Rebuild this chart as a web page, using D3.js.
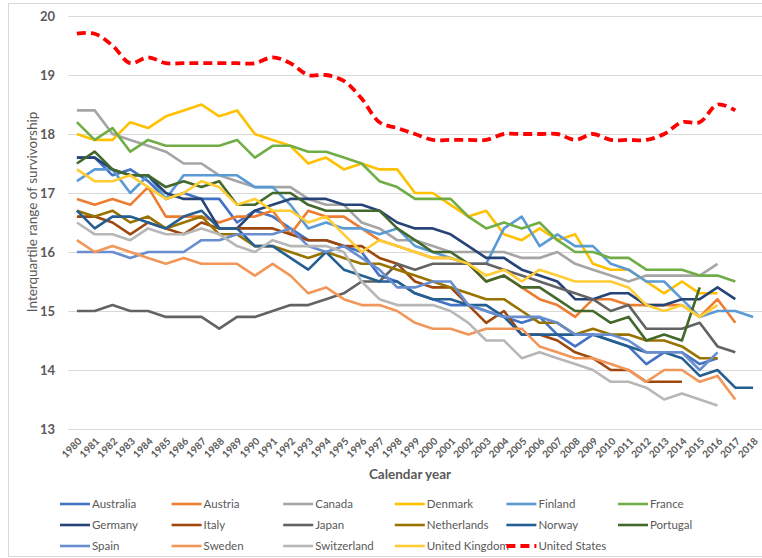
<!DOCTYPE html>
<html>
<head>
<meta charset="utf-8">
<script src="https://cdn.jsdelivr.net/npm/d3@7"></script>
<style>
  body { margin: 0; background: #fff; }
  text { font-family: Lato, "Open Sans", sans-serif; fill: #595959; }
</style>
</head>
<body>
<div id="chart-area"></div>
<script>
// years on the category axis
let years = d3.range(1980, 2019);
let yTicks = [13, 14, 15, 16, 17, 18, 19, 20];

// series values, starting at 1980
let australia = [17.6,17.6,17.3,17.4,17.2,16.9,17.0,16.9,16.9,16.5,16.7,16.6,16.4,16.2,16.2,16.1,16.0,15.6,15.5,15.3,15.2,15.1,15.1,15.0,14.9,14.8,14.9,14.6,14.4,14.6,14.5,14.4,14.1,14.3,14.3,14.1,14.2];
let austria = [16.9,16.8,16.9,16.8,17.1,16.6,16.6,16.6,16.5,16.6,16.6,16.7,16.3,16.7,16.6,16.6,16.4,16.2,16.1,16.0,15.9,15.9,15.8,15.5,15.6,15.4,15.2,15.1,14.9,15.2,15.2,15.1,15.1,15.1,15.1,14.9,15.2,14.8];
let canada = [18.4,18.4,18.0,17.9,17.8,17.7,17.5,17.5,17.3,17.2,17.1,17.1,17.1,16.9,16.8,16.8,16.5,16.4,16.2,16.2,16.1,16.0,16.0,16.0,16.0,15.9,15.9,16.0,15.8,15.7,15.6,15.5,15.6,15.6,15.6,15.6,15.8];
let denmark = [18.0,17.9,17.9,18.2,18.1,18.3,18.4,18.5,18.3,18.4,18.0,17.9,17.8,17.5,17.6,17.4,17.5,17.4,17.4,17.0,17.0,16.8,16.6,16.7,16.3,16.2,16.4,16.2,16.3,15.8,15.7,15.7,15.5,15.3,15.5,15.3,15.3];
let finland = [17.2,17.4,17.4,17.0,17.3,16.9,17.3,17.3,17.3,17.3,17.1,17.1,16.8,16.4,16.5,16.4,16.4,16.3,16.4,16.1,16.0,15.9,15.8,15.8,16.4,16.6,16.1,16.3,16.1,16.1,15.8,15.7,15.5,15.5,15.2,14.9,15.0,15.0,14.9];
let france = [18.2,17.9,18.1,17.7,17.9,17.8,17.8,17.8,17.8,17.9,17.6,17.8,17.8,17.7,17.7,17.6,17.5,17.2,17.1,16.9,16.9,16.9,16.6,16.4,16.5,16.4,16.5,16.2,16.0,16.0,15.9,15.9,15.7,15.7,15.7,15.6,15.6,15.5];
let germany = [17.6,17.6,17.4,17.3,17.3,17.0,16.9,16.9,16.4,16.4,16.7,16.8,16.9,16.9,16.9,16.8,16.8,16.7,16.5,16.4,16.4,16.3,16.1,15.9,15.9,15.7,15.6,15.5,15.2,15.2,15.3,15.3,15.1,15.1,15.2,15.2,15.4,15.2];
let italy = [16.6,16.6,16.5,16.3,16.5,16.4,16.3,16.5,16.4,16.4,16.4,16.4,16.3,16.2,16.2,16.1,16.1,15.9,15.8,15.5,15.4,15.4,15.1,14.8,15.0,14.6,14.6,14.5,14.3,14.2,14.0,14.0,13.8,13.8,13.8];
let japan = [15.0,15.0,15.1,15.0,15.0,14.9,14.9,14.9,14.7,14.9,14.9,15.0,15.1,15.1,15.2,15.3,15.5,15.5,15.8,15.7,15.8,15.8,15.8,15.8,15.7,15.6,15.5,15.4,15.3,15.2,15.0,15.1,14.7,14.7,14.7,14.8,14.4,14.3];
let netherlands = [16.7,16.6,16.7,16.5,16.6,16.4,16.5,16.6,16.3,16.3,16.1,16.1,16.0,15.9,16.0,15.9,15.8,15.8,15.7,15.6,15.5,15.4,15.3,15.2,15.2,15.0,14.8,14.8,14.6,14.7,14.6,14.6,14.5,14.5,14.4,14.2,14.2];
let norway = [16.7,16.4,16.6,16.6,16.5,16.4,16.6,16.7,16.4,16.4,16.1,16.1,15.9,15.7,16.0,15.7,15.6,15.5,15.5,15.3,15.2,15.2,15.1,15.1,14.9,14.6,14.6,14.6,14.6,14.6,14.5,14.4,14.3,14.3,14.2,13.9,14.0,13.7,13.7];
let portugal = [17.5,17.7,17.4,17.3,17.3,17.1,17.2,17.1,17.2,16.8,16.8,17.0,17.0,16.8,16.7,16.7,16.7,16.7,16.4,16.2,16.0,16.0,15.8,15.5,15.6,15.4,15.4,15.2,15.0,15.0,14.8,14.9,14.5,14.6,14.5,15.4];
let spain = [16.0,16.0,16.0,15.9,16.0,16.0,16.0,16.2,16.2,16.3,16.3,16.3,16.4,16.1,16.0,16.1,15.9,15.7,15.4,15.4,15.5,15.5,15.1,15.0,14.9,14.9,14.9,14.8,14.6,14.6,14.6,14.5,14.3,14.3,14.3,14.0,14.3];
let sweden = [16.2,16.0,16.1,16.0,15.9,15.8,15.9,15.8,15.8,15.8,15.6,15.8,15.6,15.3,15.4,15.2,15.1,15.1,15.0,14.8,14.7,14.7,14.6,14.7,14.7,14.7,14.4,14.3,14.2,14.2,14.1,14.0,13.8,14.0,14.0,13.8,13.9,13.5];
let switzerland = [16.5,16.3,16.3,16.2,16.4,16.3,16.3,16.4,16.3,16.1,16.0,16.2,16.1,16.1,16.1,16.0,15.5,15.2,15.1,15.1,15.1,15.0,14.8,14.5,14.5,14.2,14.3,14.2,14.1,14.0,13.8,13.8,13.7,13.5,13.6,13.5,13.4];
let unitedKingdom = [17.4,17.2,17.2,17.3,17.1,16.9,17.0,17.2,17.1,16.8,16.9,16.7,16.7,16.5,16.6,16.3,16.0,16.2,16.1,16.0,15.9,15.9,15.8,15.6,15.7,15.5,15.7,15.6,15.5,15.5,15.5,15.4,15.1,15.0,15.1,14.9,15.1];
let unitedStates = [19.7,19.7,19.5,19.2,19.3,19.2,19.2,19.2,19.2,19.2,19.2,19.3,19.2,19.0,19.0,18.9,18.6,18.2,18.1,18.0,17.9,17.9,17.9,17.9,18.0,18.0,18.0,18.0,17.9,18.0,17.9,17.9,17.9,18.0,18.2,18.2,18.5,18.4];

let countries = ["Australia","Austria","Canada","Denmark","Finland","France",
  "Germany","Italy","Japan","Netherlands","Norway","Portugal",
  "Spain","Sweden","Switzerland","United Kingdom","United States"];
let values = [australia, austria, canada, denmark, finland, france,
  germany, italy, japan, netherlands, norway, portugal,
  spain, sweden, switzerland, unitedKingdom, unitedStates];
let colors = ["#4472C4","#ED7D31","#A5A5A5","#FFC000","#5B9BD5","#70AD47",
  "#264478","#9E480E","#636363","#997300","#255E91","#43682B",
  "#698ED0","#F1975A","#B7B7B7","#FFCD33","#FF0000"];

let series = countries.map((c, i) => ({
  name: c,
  color: colors[i],
  dashed: c === "United States",
  points: values[i].map((v, j) => ({year: years[j], value: v}))
}));

let W = 762, H = 558;
let plot = {left: 68, right: 762, top: 16, bottom: 429};

let svg = d3.select("#chart-area").append("svg")
    .attr("width", W)
    .attr("height", H);

// chart border
svg.append("rect")
    .attr("x", 8.5).attr("y", 3.5)
    .attr("width", W + 10).attr("height", H - 5)
    .attr("fill", "none")
    .attr("stroke", "#D9D9D9");

let x = d3.scalePoint()
    .domain(years)
    .range([plot.left, plot.right])
    .padding(0.5);

let y = d3.scaleLinear()
    .domain([13, 20])
    .range([plot.bottom, plot.top]);

// gridlines + y labels
let yAxis = d3.axisLeft(y).tickValues(yTicks).tickFormat(d3.format("d"))
    .tickSize(-(plot.right - plot.left)).tickPadding(13);
let gy = svg.append("g")
    .attr("transform", "translate(" + plot.left + ",0)")
    .call(yAxis);
gy.select(".domain").remove();
gy.selectAll("line").attr("stroke", "#D9D9D9").attr("stroke-width", 1.2);
gy.selectAll("text")
    .style("font-size", "13px").style("font-weight", "bold")
    .attr("fill", "#595959");

// x labels
let xAxis = d3.axisBottom(x).tickSize(0).tickPadding(0);
let gx = svg.append("g")
    .attr("transform", "translate(0," + plot.bottom + ")")
    .call(xAxis);
gx.select(".domain").remove();
gx.selectAll("text")
    .style("font-size", "10px").style("font-weight", "bold")
    .attr("fill", "#595959")
    .attr("text-anchor", "end")
    .attr("dy", 0)
    .attr("transform", "translate(5,13) rotate(-45)");

// axis titles
svg.append("text")
    .attr("x", 410).attr("y", 479)
    .attr("text-anchor", "middle")
    .style("font-size", "13.5px").style("font-weight", "bold")
    .text("Calendar year");

svg.append("text")
    .attr("transform", "translate(37,212) rotate(-90)")
    .attr("text-anchor", "middle")
    .style("font-size", "13.5px")
    .text("Interquartile range of survivorship");

// lines
let line = d3.line()
    .x(d => x(d.year))
    .y(d => y(d.value));
let smooth = d3.line()
    .x(d => x(d.year))
    .y(d => y(d.value))
    .curve(d3.curveCatmullRom.alpha(0.5));

svg.append("g").selectAll("path")
    .data(series)
    .enter()
    .append("path")
    .attr("d", d => d.dashed ? smooth(d.points) : line(d.points))
    .attr("fill", "none")
    .attr("stroke", d => d.color)
    .attr("stroke-width", d => d.dashed ? 3.8 : 2.6)
    .attr("stroke-dasharray", d => d.dashed ? "9,5" : null)
    .attr("stroke-linejoin", "round");

// legend, 6 per row
let legend = svg.append("g").selectAll("g")
    .data(series)
    .enter()
    .append("g")
    .attr("transform", (d, i) => "translate(" + (60 + (i % 6) * 111.6) + "," + (504 + Math.floor(i / 6) * 21) + ")");

legend.append("line")
    .attr("x1", 0).attr("x2", 30)
    .attr("stroke", d => d.color)
    .attr("stroke-width", d => d.dashed ? 3.8 : 2.6)
    .attr("stroke-dasharray", d => d.dashed ? "9,5" : null);

legend.append("text")
    .attr("x", 32).attr("dy", "0.35em")
    .style("font-size", "11.5px")
    .text(d => d.name);
</script>
</body>
</html>
